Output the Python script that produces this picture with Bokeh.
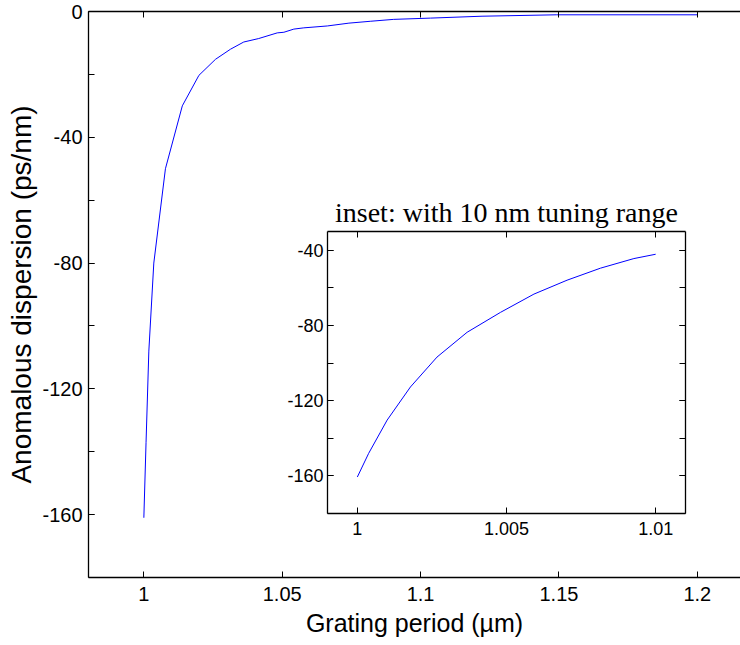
from bokeh.plotting import figure
from bokeh.models import Range1d, FixedTicker, LinearAxis
from bokeh.embed import file_html
from bokeh.resources import INLINE

# ---- data ----
main_x = [1.0, 1.0008, 1.0018, 1.0036, 1.0078, 1.0139, 1.0199, 1.0259, 1.0313,
          1.0361, 1.0415, 1.0482, 1.0506, 1.0542, 1.0578, 1.0663, 1.0741, 1.082,
          1.0903, 1.1036, 1.1222, 1.149, 1.2]
main_y = [-161, -137, -108, -80, -50, -30, -20.3, -15.2, -12.0,
          -9.7, -8.6, -6.8, -6.6, -5.6, -5.2, -4.6, -3.7, -3.1,
          -2.5, -2.1, -1.5, -1.05, -1.05]

inset_x = [1.0, 1.00038, 1.001, 1.00178, 1.00267, 1.00368, 1.0048, 1.00592,
           1.00703, 1.00815, 1.00927, 1.01]
inset_y = [-160.6, -148, -130.3, -112.7, -96.8, -83.6, -73, -63.3,
           -55.9, -49.5, -44.4, -42.1]

main_xticks = [1.0, 1.05, 1.1, 1.15, 1.2]
main_xtick_labels = ["1", "1.05", "1.1", "1.15", "1.2"]
main_yticks = [-160, -120, -80, -40, 0]
main_ytick_labels = ["-160", "-120", "-80", "-40", "0"]
main_yminor = [-180, -160, -140, -120, -100, -80, -60, -40, -20, 0]

inset_xticks = [1.0, 1.005, 1.01]
inset_xtick_labels = ["1", "1.005", "1.01"]
inset_yticks = [-160, -120, -80, -40]
inset_ytick_labels = ["-160", "-120", "-80", "-40"]
inset_yminor = [-180, -160, -140, -120, -100, -80, -60, -40]

FONT = "Liberation Sans"
SERIF = "Liberation Serif"


def style_axis(ax, font_size, show_labels=True):
    ax.axis_line_color = "black"
    ax.axis_line_width = 1.3
    ax.major_tick_line_color = "black"
    ax.minor_tick_line_color = "black"
    ax.major_tick_in = 6
    ax.major_tick_out = 0
    ax.minor_tick_in = 6
    ax.minor_tick_out = 0
    ax.major_label_text_font = FONT
    ax.major_label_text_color = "black"
    ax.axis_label_text_font = FONT
    ax.axis_label_text_font_style = "normal"
    ax.axis_label_text_color = "black"
    if show_labels:
        ax.major_label_text_font_size = font_size
    else:
        ax.major_label_text_color = None
        ax.major_label_text_font_size = "1px"
        ax.major_label_standoff = 0


# ---- main plot (placed at page 0,0) ----
p = figure(width=740, height=645,
           x_range=Range1d(0.98, 1.2156), y_range=Range1d(-180, 0),
           output_backend="svg", toolbar_location=None,
           min_border_left=88, min_border_right=0,
           min_border_top=11, min_border_bottom=68)
p.css_classes = ["main-fig"]
p.outline_line_color = None
p.grid.visible = False

p.line(main_x, main_y, line_color="#0000ff", line_width=1)

xa = p.xaxis[0]
xa.ticker = FixedTicker(ticks=main_xticks)
xa.major_label_overrides = {t: l for t, l in zip(main_xticks, main_xtick_labels)}
style_axis(xa, "20px")
xa.major_label_standoff = 9
xa.axis_label = "Grating period (\u00b5m)"
xa.axis_label_text_font_size = "25px"
xa.axis_label_standoff = 5

ya = p.yaxis[0]
ya.ticker = FixedTicker(ticks=main_yticks, minor_ticks=main_yminor)
ya.major_label_overrides = {t: l for t, l in zip(main_yticks, main_ytick_labels)}
style_axis(ya, "20px")
ya.major_label_standoff = 6
ya.axis_label = "Anomalous dispersion (ps/nm)"
ya.axis_label_text_font_size = "28px"
ya.axis_label_standoff = 2

top = LinearAxis(ticker=FixedTicker(ticks=main_xticks))
style_axis(top, "1px", show_labels=False)
p.add_layout(top, "above")

# ---- inset (absolutely placed over the main plot) ----
inset = figure(width=413, height=358,
               x_range=Range1d(0.999, 1.011), y_range=Range1d(-180, -30),
               output_backend="svg", toolbar_location=None,
               min_border_left=50, min_border_right=5,
               min_border_top=41, min_border_bottom=35,
               title="inset: with 10 nm tuning range")
inset.css_classes = ["inset-fig"]
inset.outline_line_color = None
inset.grid.visible = False
inset.border_fill_alpha = 0
inset.title.text_font = SERIF
inset.title.text_font_size = "28px"
inset.title.text_font_style = "normal"
inset.title.align = "center"
inset.title.text_color = "black"
inset.title.standoff = 7

inset.line(inset_x, inset_y, line_color="#0000ff", line_width=1)

ixa = inset.xaxis[0]
ixa.ticker = FixedTicker(ticks=inset_xticks)
ixa.major_label_overrides = {t: l for t, l in zip(inset_xticks, inset_xtick_labels)}
style_axis(ixa, "18px")
ixa.major_label_standoff = 8

iya = inset.yaxis[0]
iya.ticker = FixedTicker(ticks=inset_yticks, minor_ticks=inset_yminor)
iya.major_label_overrides = {t: l for t, l in zip(inset_yticks, inset_ytick_labels)}
style_axis(iya, "18px")
iya.major_label_standoff = 4

itop = LinearAxis(ticker=FixedTicker(ticks=inset_xticks))
style_axis(itop, "1px", show_labels=False)
inset.add_layout(itop, "above")

iright = LinearAxis(ticker=FixedTicker(ticks=inset_yticks, minor_ticks=inset_yminor))
style_axis(iright, "1px", show_labels=False)
inset.add_layout(iright, "right")

template = """
{% block postamble %}
<style>
  html, body { margin: 0 !important; padding: 0 !important; overflow: hidden !important; }
  .main-fig { position: absolute !important; left: 0px !important; top: 0px !important; }
  .inset-fig { position: absolute !important; left: 277px !important; top: 190px !important; }
</style>
{% endblock %}
"""

open("out.html", "w").write(file_html([p, inset], INLINE, template=template))
